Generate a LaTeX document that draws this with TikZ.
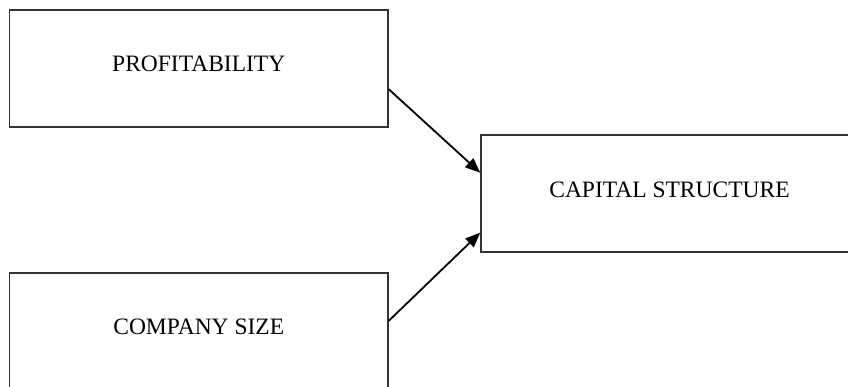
\documentclass[tikz,border=0pt]{standalone}
\usepackage{fontspec}
\setmainfont{Liberation Serif}
\usetikzlibrary{calc,arrows.meta}
\begin{document}
\begin{tikzpicture}[x=1pt,y=-1pt,
  box/.style={draw=black!80,line width=1.5pt,minimum width=378.5pt,minimum height=117pt,inner sep=0pt,font=\fontsize{23.5}{28}\selectfont},
  conn/.style={draw=black,line width=1.8pt,-{Triangle[length=15pt,width=12pt]}}]
\useasboundingbox (0,0) rectangle (848,387);
\clip (0,0) rectangle (848,387);
\node[box] (p) at (198.75,68.5) {\raisebox{10pt}{PROFITABILITY}};
\node[box] (s) at (198.75,331.5) {\raisebox{10pt}{COMPANY SIZE}};
\node[box,minimum width=377pt] (c) at (669.5,193.5) {\raisebox{7pt}{CAPITAL STRUCTURE}};
\draw[conn] ($(p.north east)!0.675!(p.south east)$) -- ($(c.north west)!0.325!(c.south west)$);
\draw[conn] ($(s.north east)!0.41!(s.south east)$) -- ($(c.north west)!0.83!(c.south west)$);
\end{tikzpicture}
\end{document}
